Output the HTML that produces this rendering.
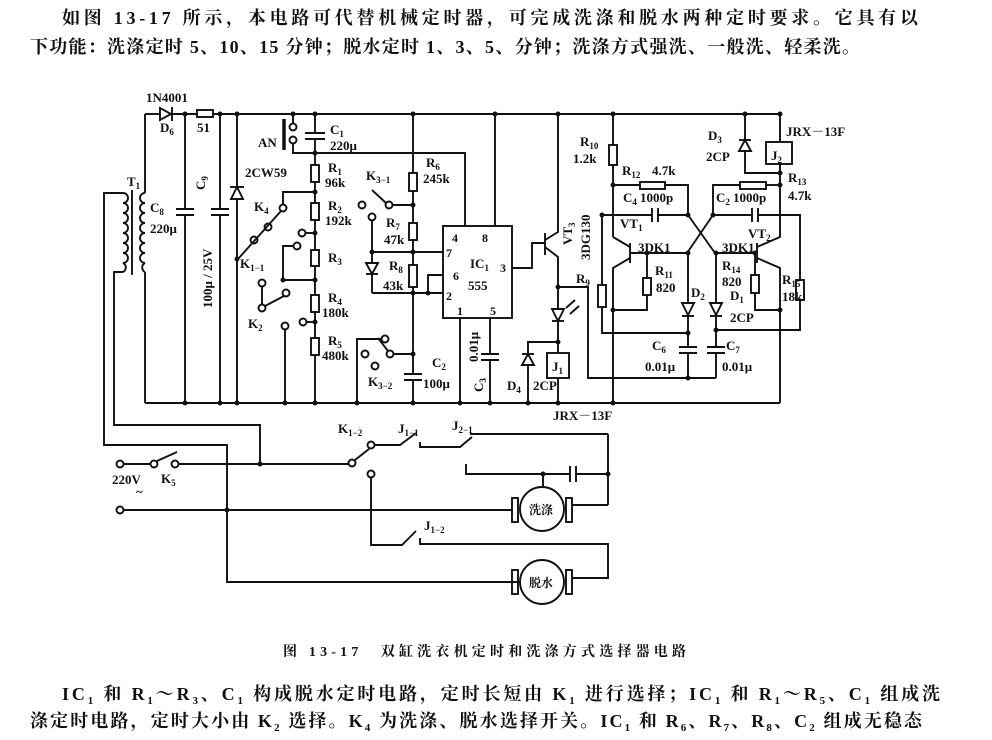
<!DOCTYPE html>
<html><head><meta charset="utf-8"><style>
html,body{margin:0;padding:0;background:#fff;}
body{width:992px;height:740px;overflow:hidden;position:relative;}
svg text{font-family:"Liberation Serif","Noto Serif CJK SC",serif;fill:#111;}
</style></head><body>
<svg width="992" height="740" style="position:absolute;left:0;top:0">
<g stroke="none" font-size="18" font-weight="bold">
<text x="62" y="24" textLength="856" lengthAdjust="spacing">如图 13-17 所示，本电路可代替机械定时器，可完成洗涤和脱水两种定时要求。它具有以</text>
<text x="30" y="53" textLength="830" lengthAdjust="spacing">下功能：洗涤定时 5、10、15 分钟；脱水定时 1、3、5、分钟；洗涤方式强洗、一般洗、轻柔洗。</text>
<text x="283" y="656" font-size="14" textLength="403" lengthAdjust="spacing">图 13-17　双缸洗衣机定时和洗涤方式选择器电路</text>
<text x="62" y="700" textLength="878" lengthAdjust="spacing">IC<tspan font-size="11" dy="4">1</tspan><tspan dy="-4"> 和 R</tspan><tspan font-size="11" dy="4">1</tspan><tspan dy="-4">～R</tspan><tspan font-size="11" dy="4">3</tspan><tspan dy="-4">、C</tspan><tspan font-size="11" dy="4">1</tspan><tspan dy="-4"> 构成脱水定时电路，定时长短由 K</tspan><tspan font-size="11" dy="4">1</tspan><tspan dy="-4"> 进行选择；IC</tspan><tspan font-size="11" dy="4">1</tspan><tspan dy="-4"> 和 R</tspan><tspan font-size="11" dy="4">1</tspan><tspan dy="-4">～R</tspan><tspan font-size="11" dy="4">5</tspan><tspan dy="-4">、C</tspan><tspan font-size="11" dy="4">1</tspan><tspan dy="-4"> 组成洗</tspan></text>
<text x="30" y="727" textLength="892" lengthAdjust="spacing">涤定时电路，定时大小由 K<tspan font-size="11" dy="4">2</tspan><tspan dy="-4"> 选择。K</tspan><tspan font-size="11" dy="4">4</tspan><tspan dy="-4"> 为洗涤、脱水选择开关。IC</tspan><tspan font-size="11" dy="4">1</tspan><tspan dy="-4"> 和 R</tspan><tspan font-size="11" dy="4">6</tspan><tspan dy="-4">、R</tspan><tspan font-size="11" dy="4">7</tspan><tspan dy="-4">、R</tspan><tspan font-size="11" dy="4">8</tspan><tspan dy="-4">、C</tspan><tspan font-size="11" dy="4">2</tspan><tspan dy="-4"> 组成无稳态</tspan></text>
</g>
<g fill="none" stroke="#111" stroke-width="1.9">
<polyline points="145,114 160,114"/>
<polygon points="160,108 160,120 171,114" fill="#fff"/><line x1="172" y1="107" x2="172" y2="121"/>
<line x1="172" y1="114" x2="197" y2="114"/>
<rect x="197" y="110" width="16" height="7" fill="#fff"/>
<line x1="213" y1="114" x2="780" y2="114"/>
<line x1="145" y1="403" x2="780" y2="403"/>
<line x1="145" y1="114" x2="145" y2="193"/><line x1="145" y1="272" x2="145" y2="403"/>
<path d="M145,193 a5,5 0 0 0 0,10 a5,5 0 0 0 0,10 a5,5 0 0 0 0,10 a5,5 0 0 0 0,10 a5,5 0 0 0 0,10 a5,5 0 0 0 0,10 a5,5 0 0 0 0,10 a5,5 0 0 0 0,9"/>
<path d="M123,193 a5,5 0 0 1 0,10 a5,5 0 0 1 0,10 a5,5 0 0 1 0,10 a5,5 0 0 1 0,10 a5,5 0 0 1 0,10 a5,5 0 0 1 0,10 a5,5 0 0 1 0,10 a5,5 0 0 1 0,9"/>
<line x1="132" y1="190" x2="132" y2="275"/>
<polyline points="123,193 104,193 104,445 227,445 227,582 520,582"/>
<polyline points="123,272 114,272 114,425 260,425 260,462"/>
<line x1="185" y1="114" x2="185" y2="209"/><line x1="185" y1="215" x2="185" y2="403"/>
<line x1="176" y1="209" x2="194" y2="209"/><line x1="176" y1="215" x2="194" y2="215"/>
<line x1="220" y1="114" x2="220" y2="209"/><line x1="220" y1="215" x2="220" y2="403"/>
<line x1="211" y1="209" x2="229" y2="209"/><line x1="211" y1="215" x2="229" y2="215"/>
<line x1="237" y1="114" x2="237" y2="403"/>
<polygon points="237,187 231,199 243,199" fill="#fff"/><line x1="230" y1="187" x2="244" y2="187"/>
<line x1="315" y1="114" x2="315" y2="133"/><line x1="305" y1="133" x2="325" y2="133"/><line x1="305" y1="139" x2="325" y2="139"/>
<line x1="315" y1="139" x2="315" y2="165"/>
<line x1="293" y1="114" x2="293" y2="123"/><circle cx="293" cy="127" r="3.5" fill="#fff"/><circle cx="293" cy="140" r="3.5" fill="#fff"/>
<line x1="284" y1="119" x2="284" y2="150" stroke-width="3.5"/>
<polyline points="293,144 293,153 465,153 465,226"/>
<rect x="311" y="165" width="8" height="17" fill="#fff"/>
<line x1="315" y1="182" x2="315" y2="203"/><rect x="311" y="203" width="8" height="17" fill="#fff"/>
<line x1="315" y1="220" x2="315" y2="250"/><rect x="311" y="250" width="8" height="16" fill="#fff"/>
<line x1="315" y1="266" x2="315" y2="295"/><rect x="311" y="295" width="8" height="17" fill="#fff"/>
<line x1="315" y1="312" x2="315" y2="338"/><rect x="311" y="338" width="8" height="17" fill="#fff"/>
<line x1="315" y1="355" x2="315" y2="403"/>
<polyline points="315,192 283,192 283,204"/>
<circle cx="283" cy="208" r="3.5" fill="#fff"/><circle cx="268" cy="227" r="3.5" fill="#fff"/><circle cx="254" cy="240" r="3.5" fill="#fff"/>
<line x1="281" y1="211" x2="238" y2="259"/>
<circle cx="302" cy="233" r="3.5" fill="#fff"/><line x1="306" y1="233" x2="315" y2="233"/>
<circle cx="297" cy="246" r="3.5" fill="#fff"/><polyline points="293,246 283,246 283,280 315,280"/>
<circle cx="262" cy="283" r="3.5" fill="#fff"/><line x1="262" y1="287" x2="262" y2="304"/>
<circle cx="262" cy="308" r="3.5" fill="#fff"/><circle cx="286" cy="293" r="3.5" fill="#fff"/>
<line x1="265" y1="306" x2="284" y2="296"/>
<circle cx="285" cy="326" r="3.5" fill="#fff"/><line x1="285" y1="330" x2="285" y2="403"/>
<circle cx="303" cy="322" r="3.5" fill="#fff"/><line x1="307" y1="322" x2="315" y2="322"/>
<line x1="413" y1="114" x2="413" y2="173"/><rect x="409" y="173" width="8" height="18" fill="#fff"/>
<line x1="413" y1="191" x2="413" y2="223"/><rect x="409" y="223" width="8" height="17" fill="#fff"/>
<line x1="413" y1="240" x2="413" y2="265"/><rect x="409" y="265" width="8" height="22" fill="#fff"/>
<line x1="413" y1="287" x2="413" y2="374"/>
<line x1="404" y1="374" x2="422" y2="374"/><line x1="404" y1="380" x2="422" y2="380"/><line x1="413" y1="380" x2="413" y2="403"/>
<line x1="372" y1="252" x2="443" y2="252"/>
<polyline points="443,275 428,275 428,293"/><line x1="372" y1="293" x2="443" y2="293"/>
<circle cx="362" cy="205" r="3.5" fill="#fff"/><circle cx="372" cy="217" r="3.5" fill="#fff"/><circle cx="389" cy="205" r="3.5" fill="#fff"/>
<line x1="393" y1="205" x2="413" y2="205"/><line x1="386" y1="203" x2="372" y2="190"/>
<line x1="372" y1="221" x2="372" y2="263"/>
<polygon points="366,263 378,263 372,274" fill="#fff"/><line x1="366" y1="274" x2="378" y2="274"/>
<line x1="372" y1="274" x2="372" y2="293"/>
<circle cx="385" cy="339" r="3.5" fill="#fff"/><circle cx="365" cy="354" r="3.5" fill="#fff"/><circle cx="375" cy="366" r="3.5" fill="#fff"/><circle cx="390" cy="354" r="3.5" fill="#fff"/>
<line x1="394" y1="354" x2="413" y2="354"/><line x1="388" y1="351" x2="378" y2="338"/>
<polyline points="381,339 357,339 357,403"/>
<rect x="443" y="226" width="69" height="92" fill="#fff"/>
<line x1="495" y1="114" x2="495" y2="226"/>
<line x1="460" y1="318" x2="460" y2="403"/>
<line x1="490" y1="318" x2="490" y2="354"/><line x1="481" y1="354" x2="499" y2="354"/><line x1="481" y1="360" x2="499" y2="360"/><line x1="490" y1="360" x2="490" y2="403"/>
<polyline points="512,268 532,268 532,243 545,243"/>
<line x1="545" y1="233" x2="545" y2="255"/>
<polyline points="558,114 558,232 545,240"/><polyline points="545,247 558,257 558,310"/>
<polygon points="552,309 564,309 558,321" fill="#fff"/><line x1="552" y1="321" x2="564" y2="321"/>
<line x1="566" y1="308" x2="575" y2="300"/><line x1="570" y1="314" x2="579" y2="306"/>
<polyline points="558,321 558,353"/><rect x="547" y="353" width="22" height="25" fill="#fff"/>
<line x1="558" y1="378" x2="558" y2="403"/>
<polyline points="558,342 528,342 528,403"/>
<polygon points="522,365 534,365 528,354" fill="#fff"/><line x1="522" y1="354" x2="534" y2="354"/>
<polyline points="558,287 588,287 588,378 716,378"/>
<line x1="613" y1="114" x2="613" y2="145"/><rect x="609" y="145" width="8" height="20" fill="#fff"/>
<line x1="613" y1="165" x2="613" y2="237"/>
<line x1="613" y1="185" x2="640" y2="185"/><rect x="640" y="182" width="25" height="7" fill="#fff"/><polyline points="665,185 688,185 688,215"/>
<polyline points="602,285 602,215 652,215"/><line x1="652" y1="208" x2="652" y2="222"/><line x1="658" y1="208" x2="658" y2="222"/><line x1="658" y1="215" x2="688" y2="215"/>
<line x1="688" y1="215" x2="715" y2="253"/><line x1="713" y1="215" x2="687" y2="253"/>
<line x1="630" y1="243" x2="630" y2="263"/><polyline points="613,237 630,247"/><polyline points="630,258 613,268 613,403"/>
<line x1="630" y1="253" x2="688" y2="253"/>
<line x1="647" y1="253" x2="647" y2="278"/><rect x="643" y="278" width="8" height="17" fill="#fff"/><polyline points="647,295 647,310 613,310"/>
<rect x="598" y="285" width="8" height="22" fill="#fff"/><polyline points="602,307 602,333 688,333"/>
<line x1="688" y1="253" x2="688" y2="303"/><polygon points="682,303 694,303 688,315" fill="#fff"/><line x1="682" y1="316" x2="694" y2="316"/>
<line x1="688" y1="316" x2="688" y2="347"/><line x1="679" y1="347" x2="697" y2="347"/><line x1="679" y1="353" x2="697" y2="353"/><line x1="688" y1="353" x2="688" y2="378"/>
<line x1="716" y1="253" x2="716" y2="303"/><polygon points="710,303 722,303 716,315" fill="#fff"/><line x1="710" y1="316" x2="722" y2="316"/>
<line x1="716" y1="316" x2="716" y2="347"/><line x1="707" y1="347" x2="725" y2="347"/><line x1="707" y1="353" x2="725" y2="353"/><line x1="716" y1="353" x2="716" y2="378"/>
<line x1="716" y1="253" x2="757" y2="253"/>
<polyline points="713,215 713,185 740,185"/><rect x="740" y="182" width="26" height="7" fill="#fff"/><line x1="766" y1="185" x2="780" y2="185"/>
<polyline points="713,215 752,215"/><line x1="752" y1="208" x2="752" y2="222"/><line x1="758" y1="208" x2="758" y2="222"/><polyline points="758,215 800,215 800,280"/>
<rect x="796" y="280" width="8" height="20" fill="#fff"/><polyline points="800,300 800,330 716,330"/>
<line x1="757" y1="243" x2="757" y2="263"/><polyline points="780,173 780,237 757,247"/><polyline points="757,258 780,268 780,403"/>
<line x1="755" y1="253" x2="755" y2="275"/><rect x="751" y="275" width="8" height="18" fill="#fff"/><polyline points="755,293 755,310 780,310"/>
<polyline points="780,114 780,142"/><rect x="766" y="142" width="26" height="22" fill="#fff"/><line x1="780" y1="164" x2="780" y2="173"/>
<polyline points="745,114 745,173 780,173"/><polygon points="739,151 751,151 745,140" fill="#fff"/><line x1="739" y1="140" x2="751" y2="140"/>
<circle cx="120" cy="464" r="3.5" fill="#fff"/><line x1="124" y1="464" x2="150" y2="464"/>
<circle cx="154" cy="464" r="3.5" fill="#fff"/><line x1="157" y1="461" x2="177" y2="452"/><circle cx="175" cy="464" r="3.5" fill="#fff"/>
<line x1="179" y1="464" x2="349" y2="464"/><circle cx="352" cy="463" r="3.5" fill="#fff"/>
<line x1="355" y1="460" x2="369" y2="449"/>
<circle cx="371" cy="445" r="3.5" fill="#fff"/><circle cx="371" cy="474" r="3.5" fill="#fff"/>
<polyline points="375,445 400,445 416,433"/><polyline points="420,442 420,447 460,447 472,437"/><line x1="470" y1="434" x2="608" y2="434"/>
<line x1="608" y1="434" x2="608" y2="505"/><line x1="608" y1="505" x2="572" y2="505"/>
<polyline points="466,464 466,474 570,474"/><line x1="570" y1="466" x2="570" y2="482"/><line x1="576" y1="466" x2="576" y2="482"/><line x1="576" y1="474" x2="608" y2="474"/>
<line x1="543" y1="474" x2="543" y2="487"/>
<circle cx="120" cy="510" r="3.5" fill="#fff"/><line x1="124" y1="510" x2="512" y2="510"/>
<circle cx="542" cy="509" r="22" fill="#fff"/><rect x="512" y="498" width="6" height="24"/><rect x="566" y="498" width="6" height="24"/>
<polyline points="371,478 371,545 402,545 416,531"/><polyline points="420,538 420,544 608,544 608,578 572,578"/>
<circle cx="542" cy="582" r="22" fill="#fff"/><rect x="512" y="570" width="6" height="24"/><rect x="566" y="570" width="6" height="24"/>
</g>
<g fill="#111" stroke="none">
<circle cx="185" cy="114" r="2.5"/><circle cx="220" cy="114" r="2.5"/><circle cx="237" cy="114" r="2.5"/><circle cx="293" cy="114" r="2.5"/><circle cx="315" cy="114" r="2.5"/><circle cx="413" cy="114" r="2.5"/><circle cx="495" cy="114" r="2.5"/><circle cx="558" cy="114" r="2.5"/><circle cx="613" cy="114" r="2.5"/><circle cx="745" cy="114" r="2.5"/>
<circle cx="185" cy="403" r="2.5"/><circle cx="220" cy="403" r="2.5"/><circle cx="237" cy="403" r="2.5"/><circle cx="285" cy="403" r="2.5"/><circle cx="315" cy="403" r="2.5"/><circle cx="357" cy="403" r="2.5"/><circle cx="413" cy="403" r="2.5"/><circle cx="460" cy="403" r="2.5"/><circle cx="490" cy="403" r="2.5"/><circle cx="528" cy="403" r="2.5"/><circle cx="558" cy="403" r="2.5"/><circle cx="613" cy="403" r="2.5"/>
<circle cx="315" cy="153" r="2.5"/><circle cx="315" cy="192" r="2.5"/><circle cx="315" cy="233" r="2.5"/><circle cx="315" cy="280" r="2.5"/><circle cx="283" cy="280" r="2.5"/><circle cx="315" cy="322" r="2.5"/><circle cx="237" cy="259" r="2.5"/>
<circle cx="413" cy="205" r="2.5"/><circle cx="413" cy="252" r="2.5"/><circle cx="413" cy="293" r="2.5"/><circle cx="372" cy="252" r="2.5"/><circle cx="428" cy="293" r="2.5"/><circle cx="413" cy="354" r="2.5"/>
<circle cx="558" cy="287" r="2.5"/><circle cx="558" cy="342" r="2.5"/><circle cx="613" cy="185" r="2.5"/><circle cx="602" cy="215" r="2.5"/><circle cx="688" cy="215" r="2.5"/><circle cx="713" cy="215" r="2.5"/><circle cx="688" cy="253" r="2.5"/><circle cx="716" cy="253" r="2.5"/><circle cx="647" cy="253" r="2.5"/><circle cx="755" cy="253" r="2.5"/><circle cx="613" cy="310" r="2.5"/><circle cx="780" cy="310" r="2.5"/><circle cx="688" cy="333" r="2.5"/><circle cx="716" cy="330" r="2.5"/><circle cx="688" cy="378" r="2.5"/><circle cx="780" cy="173" r="2.5"/><circle cx="780" cy="185" r="2.5"/><circle cx="780" cy="114" r="2.5"/>
<circle cx="260" cy="464" r="2.5"/><circle cx="227" cy="510" r="2.5"/><circle cx="543" cy="474" r="2.5"/><circle cx="608" cy="474" r="2.5"/>
</g>
<g stroke="none" font-size="13" font-weight="bold">
<text x="146" y="102">1N4001</text><text x="160" y="132">D<tspan font-size="9" dy="3">6</tspan></text><text x="197" y="132">51</text>
<text x="127" y="186">T<tspan font-size="9" dy="3">1</tspan></text>
<text x="150" y="212">C<tspan font-size="9" dy="3">8</tspan></text><text x="150" y="233">220μ</text>
<text x="205" y="190" transform="rotate(-90 205 190)">C<tspan font-size="9" dy="3">9</tspan></text>
<text x="212" y="308" transform="rotate(-90 212 308)">100μ / 25V</text>
<text x="245" y="177">2CW59</text>
<text x="258" y="147">AN</text><text x="330" y="134">C<tspan font-size="9" dy="3">1</tspan></text><text x="330" y="150">220μ</text>
<text x="328" y="172">R<tspan font-size="9" dy="3">1</tspan></text><text x="325" y="187">96k</text>
<text x="328" y="210">R<tspan font-size="9" dy="3">2</tspan></text><text x="325" y="225">192k</text>
<text x="328" y="262">R<tspan font-size="9" dy="3">3</tspan></text>
<text x="328" y="302">R<tspan font-size="9" dy="3">4</tspan></text><text x="322" y="317">180k</text>
<text x="328" y="345">R<tspan font-size="9" dy="3">5</tspan></text><text x="322" y="360">480k</text>
<text x="254" y="211">K<tspan font-size="9" dy="3">4</tspan></text>
<text x="240" y="268">K<tspan font-size="9" dy="3">1−1</tspan></text>
<text x="248" y="328">K<tspan font-size="9" dy="3">2</tspan></text>
<text x="366" y="180">K<tspan font-size="9" dy="3">3−1</tspan></text>
<text x="426" y="167">R<tspan font-size="9" dy="3">6</tspan></text><text x="423" y="183">245k</text>
<text x="386" y="227">R<tspan font-size="9" dy="3">7</tspan></text><text x="384" y="244">47k</text>
<text x="389" y="270">R<tspan font-size="9" dy="3">8</tspan></text><text x="383" y="290">43k</text>
<text x="368" y="386">K<tspan font-size="9" dy="3">3−2</tspan></text>
<text x="432" y="367">C<tspan font-size="9" dy="3">2</tspan></text><text x="423" y="388">100μ</text>
<text x="452" y="242" font-size="12">4</text><text x="482" y="242" font-size="12">8</text>
<text x="446" y="257" font-size="12">7</text><text x="453" y="280" font-size="12">6</text><text x="446" y="300" font-size="12">2</text>
<text x="457" y="315" font-size="12">1</text><text x="490" y="315" font-size="12">5</text><text x="500" y="272" font-size="12">3</text>
<text x="470" y="268">IC<tspan font-size="9" dy="3">1</tspan></text><text x="468" y="290">555</text>
<text x="478" y="362" transform="rotate(-90 478 362)">0.01μ</text>
<text x="483" y="392" transform="rotate(-90 483 392)">C<tspan font-size="9" dy="3">3</tspan></text>
<text x="572" y="245" transform="rotate(-90 572 245)">VT<tspan font-size="9" dy="3">3</tspan></text>
<text x="590" y="260" transform="rotate(-90 590 260)">3DG130</text>
<text x="576" y="283">R<tspan font-size="9" dy="3">9</tspan></text>
<text x="507" y="390">D<tspan font-size="9" dy="3">4</tspan></text><text x="533" y="390">2CP</text>
<text x="552" y="371">J<tspan font-size="9" dy="3">1</tspan></text>
<text x="553" y="420">JRX－13F</text>
<text x="580" y="146">R<tspan font-size="9" dy="3">10</tspan></text><text x="573" y="163">1.2k</text>
<text x="622" y="175">R<tspan font-size="9" dy="3">12</tspan></text><text x="652" y="175">4.7k</text>
<text x="623" y="202">C<tspan font-size="9" dy="3">4</tspan></text><text x="640" y="202">1000p</text>
<text x="620" y="228">VT<tspan font-size="9" dy="3">1</tspan></text><text x="638" y="252">3DK1</text>
<text x="655" y="275">R<tspan font-size="9" dy="3">11</tspan></text><text x="656" y="292">820</text>
<text x="691" y="297">D<tspan font-size="9" dy="3">2</tspan></text>
<text x="652" y="350">C<tspan font-size="9" dy="3">6</tspan></text><text x="645" y="371">0.01μ</text>
<text x="726" y="350">C<tspan font-size="9" dy="3">7</tspan></text><text x="722" y="371">0.01μ</text>
<text x="716" y="202">C<tspan font-size="9" dy="3">2</tspan></text><text x="733" y="202">1000p</text>
<text x="748" y="238">VT<tspan font-size="9" dy="3">2</tspan></text><text x="722" y="252">3DK1</text>
<text x="722" y="270">R<tspan font-size="9" dy="3">14</tspan></text><text x="722" y="286">820</text>
<text x="730" y="300">D<tspan font-size="9" dy="3">1</tspan></text><text x="730" y="322">2CP</text>
<text x="782" y="284">R<tspan font-size="9" dy="3">15</tspan></text><text x="782" y="301">18k</text>
<text x="708" y="140">D<tspan font-size="9" dy="3">3</tspan></text><text x="706" y="161">2CP</text>
<text x="771" y="160">J<tspan font-size="9" dy="3">2</tspan></text>
<text x="786" y="136">JRX－13F</text>
<text x="788" y="182">R<tspan font-size="9" dy="3">13</tspan></text><text x="788" y="200">4.7k</text>
<text x="338" y="433">K<tspan font-size="9" dy="3">1−2</tspan></text>
<text x="398" y="433">J<tspan font-size="9" dy="3">1−1</tspan></text>
<text x="452" y="430">J<tspan font-size="9" dy="3">2−1</tspan></text>
<text x="112" y="484">220V</text><text x="136" y="496">~</text><text x="161" y="483">K<tspan font-size="9" dy="3">5</tspan></text>
<text x="424" y="530">J<tspan font-size="9" dy="3">1−2</tspan></text>
<text x="529" y="514" font-size="12">洗涤</text><text x="529" y="587" font-size="12">脱水</text>
</g>
</svg>
</body></html>
